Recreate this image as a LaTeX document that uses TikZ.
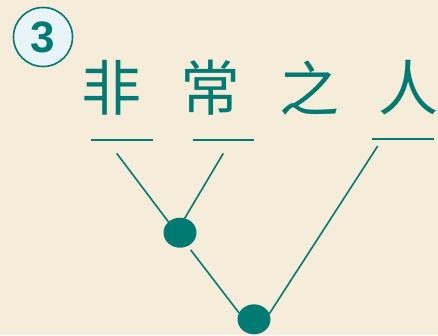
\documentclass[tikz,border=0pt]{standalone}
\usepackage{fontspec}
\setmainfont{Liberation Sans}
\newfontfamily\cjk{Noto Sans CJK SC}
\usetikzlibrary{shapes.geometric}
\definecolor{teal1}{HTML}{007A72}
\definecolor{bg}{HTML}{F5ECD9}
\definecolor{badge}{HTML}{E8F4F8}
\begin{document}
\begin{tikzpicture}[x=1pt,y=-1pt,
  ch/.style={text=teal1,font=\cjk\fontsize{60}{60}\selectfont,inner sep=0pt},
  uline/.style={draw=teal1,line width=1.6pt},
  conn/.style={draw=teal1,line width=1.6pt},
  dot/.style={ellipse,fill=teal1,minimum width=33pt,minimum height=30pt,inner sep=0pt,outer sep=0pt}]
\fill[bg] (0,0) rectangle (438,335);
\useasboundingbox (0,0) rectangle (438,335);
% badge
\node[circle,draw=teal1,line width=1.6pt,fill=badge,minimum size=59pt,inner sep=0pt,
      text=teal1,font=\bfseries\fontsize{44}{44}\selectfont] (badge) at (43,37) {3};
% characters
\node[ch] (c1) at (111,88) {非};
\node[ch] (c2) at (210,88) {常};
\node[ch] (c3) at (309,88) {之};
\node[ch] (c4) at (408,88) {人};
% underlines
\coordinate (u1l) at (91,140); \coordinate (u1r) at (153,140);
\coordinate (u2l) at (193,140); \coordinate (u2r) at (254,140);
\coordinate (u3l) at (372,139); \coordinate (u3r) at (434,139);
\draw[uline] (u1l) -- (u1r);
\draw[uline] (u2l) -- (u2r);
\draw[uline] (u3l) -- (u3r);
% dots
\node[dot] (n1) at (180,232.7) {};
\node[dot] (n2) at (254,319.3) {};
% connector ends
\coordinate (a1) at (116.7,153.3);
\coordinate (b1) at (223.3,153.3);
\coordinate (d1) at (377.7,146);
\draw[conn] (a1) -- (n1.137);
\draw[conn] (b1) -- (n1.72);
\draw[conn,shorten <=5pt] (n1.-60) -- (n2.157);
\draw[conn] (n2.20) -- (d1);
\end{tikzpicture}
\end{document}
